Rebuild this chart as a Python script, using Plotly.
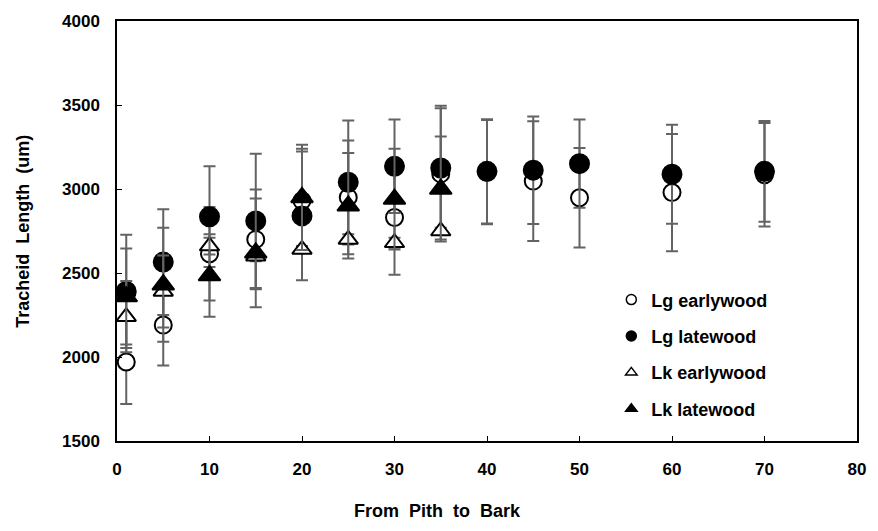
import plotly.graph_objects as go

# Distance from pith (ring position)
x_lg = [1, 5, 10, 15, 20, 25, 30, 35, 40, 45, 50, 60, 70]
x_lk = [1, 5, 10, 15, 20, 25, 30, 35]

lg_early = [1970, 2190, 2615, 2700, 2930, 2950, 2830, 3090, 3100, 3047, 2948, 2979, 3085]
lg_early_sd = [250, 241, 278, 297, 310, 339, 340, 390, 310, 356, 296, 349, 308]

lg_late = [2390, 2565, 2835, 2810, 2840, 3040, 3135, 3125, 3105, 3112, 3151, 3088, 3105]
lg_late_sd = [337, 315, 300, 400, 383, 367, 278, 371, 310, 320, 262, 295, 300]

lk_early = [2240, 2390, 2660, 2600, 2640, 2700, 2680, 2750]
lk_early_sd = [212, 214, 50, 30, 20, 30, 30, 20]

lk_late = [2360, 2430, 2485, 2620, 2950, 2900, 2940, 3000]
lk_late_sd = [286, 339, 245, 324, 313, 314, 300, 312]

x_ticks = [0, 10, 20, 30, 40, 50, 60, 70, 80]
y_ticks = [1500, 2000, 2500, 3000, 3500, 4000]

FONT = "Liberation Sans, Arial, sans-serif"
EB = "#636363"

def err(vals):
    return dict(type="data", array=vals, visible=True, color=EB, thickness=2, width=6)

series = [
    ("Lg earlywood", x_lg, lg_early, lg_early_sd, "circle", "white", 17),
    ("Lg latewood", x_lg, lg_late, lg_late_sd, "circle", "black", 19),
    ("Lk earlywood", x_lk, lk_early, lk_early_sd, "triangle-up", "white", 17),
    ("Lk latewood", x_lk, lk_late, lk_late_sd, "triangle-up", "black", 19),
]

fig = go.Figure()
for name, xs, ys, sd, sym, fill, size in series:
    fig.add_trace(go.Scatter(
        x=xs, y=ys, mode="markers", name=name, showlegend=False,
        error_y=err(sd),
        marker=dict(symbol=sym, color=fill, size=size, line=dict(color="black", width=2)),
    ))
# legend entries (small symbols as in the original)
for name, xs, ys, sd, sym, fill, size in series:
    fig.add_trace(go.Scatter(
        x=[None], y=[None], mode="markers", name=name, legendgroup=name,
        marker=dict(symbol=sym, color=fill, size=10, line=dict(color="black", width=1.5)),
    ))

fig.update_layout(
    width=878, height=531,
    margin=dict(l=117, r=15, t=18, b=90),
    paper_bgcolor="white", plot_bgcolor="white",
    font=dict(family=FONT, size=17, color="black"),
    showlegend=True,
    legend=dict(x=0.668, y=0.38, xanchor="left", yanchor="top",
                bgcolor="rgba(0,0,0,0)", tracegroupgap=10,
                font=dict(family=FONT, size=18, color="black", weight="bold")),
    xaxis=dict(range=[0, 80], tickvals=x_ticks, ticks="inside", ticklen=5,
               tickcolor="black", showline=True, linecolor="black", linewidth=1.5,
               mirror=True, showgrid=False, zeroline=False, ticklabelstandoff=12,
               tickfont=dict(family=FONT, size=17, weight="bold")),
    yaxis=dict(range=[1500, 4000], tickvals=y_ticks, ticks="inside", ticklen=5,
               tickcolor="black", showline=True, linecolor="black", linewidth=1.5,
               mirror=True, showgrid=False, zeroline=False, ticklabelstandoff=12,
               tickfont=dict(family=FONT, size=17, weight="bold")),
    annotations=[
        dict(text="Tracheid\u00a0 Length\u00a0 (um)", xref="paper", yref="paper",
             x=(22 - 117) / 746, y=0.5, xanchor="center", yanchor="middle",
             textangle=-90, showarrow=False,
             font=dict(family=FONT, size=18, weight="bold")),
        dict(text="From\u00a0 Pith\u00a0 to\u00a0 Bark", xref="paper", yref="paper",
             x=(440 - 117) / 746, y=-(512 - 441) / 423, xanchor="center", yanchor="middle",
             showarrow=False,
             font=dict(family=FONT, size=18, weight="bold")),
    ],
)

fig.write_html("out.html")
